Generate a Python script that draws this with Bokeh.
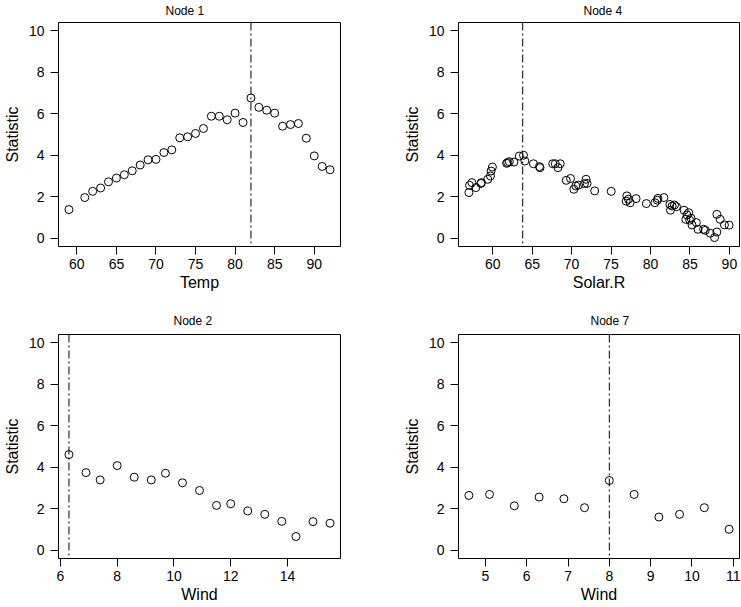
from bokeh.plotting import figure
from bokeh.layouts import column, row
from bokeh.models import Range1d, FixedTicker, Span
from bokeh.embed import file_html
from bokeh.resources import INLINE

# ---------------- data ----------------
node1_temp = [59, 61, 62, 63, 64, 65, 66, 67, 68, 69, 70, 71, 72, 73, 74, 75, 76,
              77, 78, 79, 80, 81, 82, 83, 84, 85, 86, 87, 88, 89, 90, 91, 92]
node1_stat = [1.38, 1.96, 2.26, 2.42, 2.72, 2.90, 3.06, 3.25, 3.53, 3.78, 3.80, 4.13, 4.26,
              4.84, 4.89, 5.05, 5.29, 5.88, 5.88, 5.71, 6.03, 5.58, 6.76, 6.31, 6.17, 6.03,
              5.40, 5.48, 5.53, 4.82, 3.97, 3.46, 3.30]
node1_split = 82

node4_solar = [56.98, 57.06, 57.36, 57.86, 58.49, 58.57, 59.37, 59.71, 59.79, 59.96,
               61.76, 61.89, 62.10, 62.69, 63.36, 63.90, 64.07, 65.16, 65.92, 66.00,
               67.60, 67.93, 68.27, 68.56, 69.32, 69.86, 70.28, 70.53, 70.87, 71.62,
               71.83, 71.96, 72.92, 75.02, 76.91, 77.00, 77.20, 77.42, 78.17, 79.47,
               80.56, 80.86, 80.94, 81.70, 82.45, 82.53, 82.74, 83.04, 83.29, 84.26,
               84.47, 84.63, 84.84, 84.97, 85.14, 85.26, 85.81, 86.02, 86.73, 86.94,
               87.57, 88.12, 88.41, 88.41, 88.83, 89.37, 89.96]
node4_stat = [2.20, 2.55, 2.68, 2.44, 2.64, 2.68, 2.84, 3.00, 3.24, 3.43,
              3.61, 3.65, 3.69, 3.67, 3.96, 4.00, 3.72, 3.59, 3.45, 3.40,
              3.59, 3.59, 3.40, 3.59, 2.79, 2.88, 2.36, 2.52, 2.56, 2.63,
              2.84, 2.64, 2.28, 2.26, 1.79, 2.04, 1.88, 1.71, 1.91, 1.67,
              1.71, 1.83, 1.92, 1.96, 1.63, 1.35, 1.55, 1.60, 1.52, 1.35,
              0.91, 1.12, 1.23, 0.87, 0.96, 0.64, 0.75, 0.43, 0.43, 0.38,
              0.24, 0.03, 1.15, 0.30, 0.91, 0.64, 0.63]
node4_split = 63.8

node2_wind = [6.3, 6.9, 7.4, 8.0, 8.6, 9.2, 9.7, 10.3, 10.9, 11.5, 12.0, 12.6, 13.2,
              13.8, 14.3, 14.9, 15.5]
node2_stat = [4.61, 3.74, 3.39, 4.08, 3.52, 3.39, 3.71, 3.25, 2.88, 2.16, 2.24, 1.89,
              1.73, 1.39, 0.66, 1.38, 1.30]
node2_split = 6.3

node7_wind = [4.6, 5.1, 5.7, 6.3, 6.9, 7.4, 8.0, 8.6, 9.2, 9.7, 10.3, 10.9]
node7_stat = [2.64, 2.69, 2.14, 2.56, 2.48, 2.05, 3.36, 2.69, 1.60, 1.73, 2.05, 1.01]
node7_split = 8.0

y_ticks = [0, 2, 4, 6, 8, 10]
y_lim = (0, 10)
temp_ticks = [60, 65, 70, 75, 80, 85, 90]
solar_ticks = [60, 65, 70, 75, 80, 85, 90]
wind2_ticks = [6, 8, 10, 12, 14]
wind7_ticks = [5, 6, 7, 8, 9, 10, 11]

FONT = "Liberation Sans"


def panel(x, y, split, xlabel, title, xticks, title_dx, title_standoff,
          bl, br, bt, bb, fw, fh):
    xmin, xmax = min(x), max(x)
    xpad = 0.04 * (xmax - xmin)
    ypad = 0.04 * (y_lim[1] - y_lim[0])
    p = figure(frame_width=fw, frame_height=fh,
               x_range=Range1d(xmin - xpad, xmax + xpad),
               y_range=Range1d(y_lim[0] - ypad, y_lim[1] + ypad),
               output_backend="svg", toolbar_location=None,
               min_border_left=bl, min_border_right=br,
               min_border_top=bt, min_border_bottom=bb,
               background_fill_color="white", border_fill_color="white")
    p.title.text = title
    p.title.align = "left"
    p.title.offset = title_dx
    p.title.text_font = FONT
    p.title.text_font_size = "12px"
    p.title.text_font_style = "normal"
    p.title.text_color = "black"
    p.title.standoff = title_standoff
    p.title.vertical_align = "top"

    p.grid.visible = False
    p.outline_line_color = "black"
    p.outline_line_width = 1
    p.outline_line_alpha = 1

    p.xaxis.ticker = FixedTicker(ticks=xticks)
    p.yaxis.ticker = FixedTicker(ticks=y_ticks)
    p.xaxis.axis_label = xlabel
    p.yaxis.axis_label = "Statistic"
    for ax in (p.xaxis[0], p.yaxis[0]):
        ax.axis_line_color = None
        ax.major_tick_in = 0
        ax.major_tick_out = 8
        ax.major_tick_line_color = "black"
        ax.major_tick_line_width = 1
        ax.minor_tick_line_color = None
        ax.major_label_text_font = FONT
        ax.major_label_text_font_size = "14px"
        ax.major_label_text_color = "black"
        ax.axis_label_text_font = FONT
        ax.axis_label_text_font_size = "16px"
        ax.axis_label_text_font_style = "normal"
        ax.axis_label_text_color = "black"
    p.xaxis.major_label_standoff = 4
    p.xaxis.axis_label_standoff = 2
    p.yaxis.major_label_standoff = 6
    p.yaxis.axis_label_standoff = 5

    p.add_layout(Span(location=split, dimension="height", line_color="black",
                      line_width=1, line_dash="8 3 2 3"))
    p.scatter(x, y, marker="circle", size=8, fill_color=None,
              line_color="black", line_width=1)
    return p


p1 = panel(node1_temp, node1_stat, node1_split, "Temp", "Node 1", temp_ticks, 107, 6,
           57, 31, 22, 54, 282, 224)
p2 = panel(node4_solar, node4_stat, node4_split, "Solar.R", "Node 4", solar_ticks, 125, 6,
           87, 2, 22, 54, 281, 224)
p3 = panel(node2_wind, node2_stat, node2_split, "Wind", "Node 2", wind2_ticks, 115, 10,
           57, 31, 34, 48, 282, 224)
p4 = panel(node7_wind, node7_stat, node7_split, "Wind", "Node 7", wind7_ticks, 132, 10,
           87, 2, 34, 48, 281, 224)

layout = column(row(p1, p2), row(p3, p4))

open("out.html", "w").write(file_html(layout, INLINE))
